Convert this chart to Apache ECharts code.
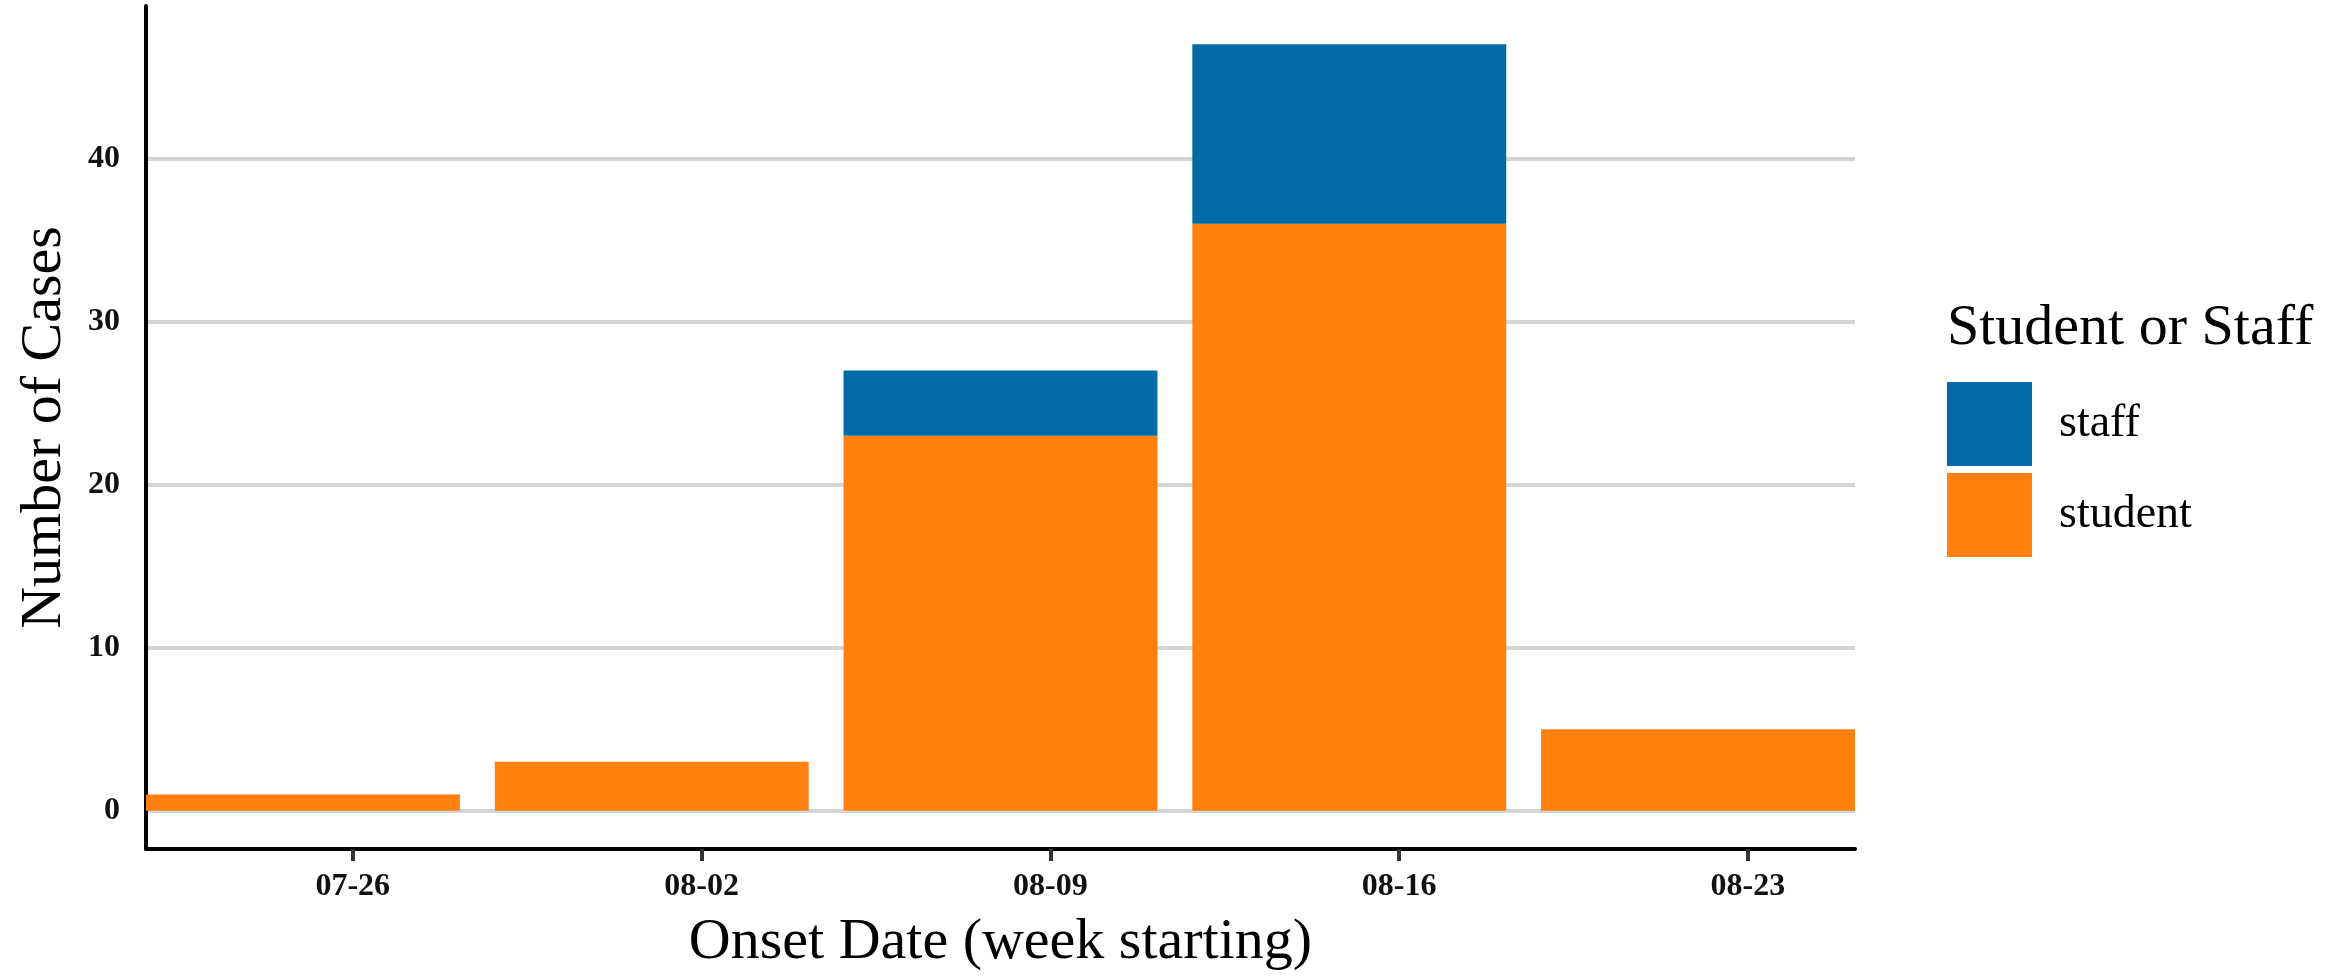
<!DOCTYPE html>
<html>
<head>
<meta charset="utf-8">
<script src="https://cdn.jsdelivr.net/npm/echarts@6/dist/echarts.min.js"></script>
<style>html,body{margin:0;padding:0;background:#fff;}#c{width:2351px;height:977px;}</style>
</head>
<body>
<div id="c"></div>
<script>
// Data
const weeks = ['07-26', '08-02', '08-09', '08-16', '08-23'];
const student = [1, 3, 23, 36, 5];
const staff = [0, 0, 4, 11, 0];
const yTicks = [0, 10, 20, 30, 40];

const FONT = 'Liberation Serif';
const DAYS = 7;
const xPos = weeks.map((w, i) => i * DAYS);       // bar centres, in days
const tickPos = weeks.map((w, i) => i * DAYS + 1); // week-start label positions (1 day after bar centre)

const chart = echarts.init(document.getElementById('c'));
chart.setOption({
  animation: false,
  backgroundColor: '#ffffff',
  title: {
    text: 'Student or Staff',
    left: 1947, top: 300, padding: 0,
    textStyle: { fontFamily: FONT, fontSize: 58, fontWeight: 'normal', color: '#000' }
  },
  legend: {
    orient: 'vertical',
    left: 1947, top: 382, padding: 0,
    itemWidth: 85, itemHeight: 84, itemGap: 7,
    icon: 'rect',
    data: ['staff', 'student'],
    textStyle: { fontFamily: FONT, fontSize: 46, color: '#000', padding: [12, 0, 0, 22] }
  },
  grid: { left: 146, right: 496, top: 6, bottom: 127, containLabel: false },
  xAxis: {
    type: 'value',
    min: -3.15, max: 31.15,
    name: 'Onset Date (week starting)',
    nameLocation: 'middle', nameGap: 65,
    nameTextStyle: { fontFamily: FONT, fontSize: 58, color: '#000' },
    axisLine: { show: true, onZero: false, lineStyle: { color: '#000', width: 4 } },
    axisTick: { show: true, length: 12, customValues: tickPos, lineStyle: { color: '#333', width: 4 } },
    axisLabel: {
      customValues: tickPos,
      margin: 22,
      fontFamily: FONT, fontSize: 32, fontWeight: 'bold', color: '#111',
      formatter: v => weeks[Math.round((v - 1) / DAYS)]
    },
    splitLine: { show: false }
  },
  yAxis: {
    type: 'value',
    min: -2.35, max: 49.35,
    name: 'Number of Cases',
    nameLocation: 'middle', nameGap: 72,
    nameTextStyle: { fontFamily: FONT, fontSize: 58, color: '#000' },
    axisLine: { show: true, onZero: false, lineStyle: { color: '#000', width: 4 } },
    axisTick: { show: false, customValues: yTicks },
    axisLabel: {
      customValues: yTicks,
      margin: 26,
      fontFamily: FONT, fontSize: 32, fontWeight: 'bold', color: '#111'
    },
    splitLine: { show: true, lineStyle: { color: '#d4d4d4', width: 4 } }
  },
  series: [
    {
      name: 'student', type: 'bar', stack: 'total', barWidth: '90%',
      encode: { x: 1, y: 0 },
      itemStyle: { color: '#FF800E' },
      data: student.map((v, i) => [v, xPos[i]])
    },
    {
      name: 'staff', type: 'bar', stack: 'total', barWidth: '90%',
      encode: { x: 1, y: 0 },
      itemStyle: { color: '#006BA4' },
      data: staff.map((v, i) => [v, xPos[i]])
    }
  ]
});
</script>
</body>
</html>
